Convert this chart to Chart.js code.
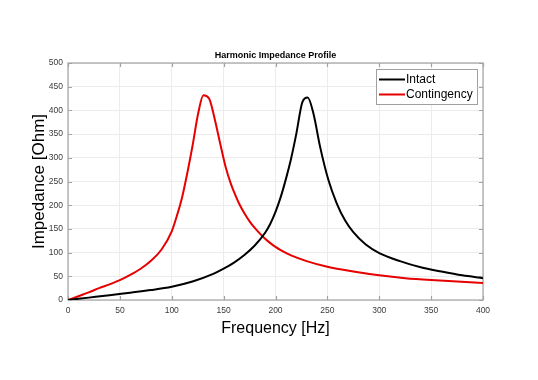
<!DOCTYPE html>
<html>
<head>
<meta charset="utf-8">
<title>Harmonic Impedance Profile</title>
<script src="https://cdn.jsdelivr.net/npm/chart.js@4/dist/chart.umd.min.js"></script>
<style>
  html, body { margin: 0; padding: 0; background: #fff; }
  #wrap { width: 538px; height: 380px; }
</style>
</head>
<body>
<div id="wrap"><canvas id="imp" width="538" height="380"></canvas></div>
<script>
// ------- data -------
const intactHz  = [0, 20, 40, 60, 80, 100, 120, 140, 150, 160, 170, 180, 190, 195, 200, 205, 210, 215, 220, 226, 231, 236.5, 243, 251, 259, 267, 275, 287, 300, 320, 340, 360, 380, 400];
const intactOhm = [0, 5, 10, 15.5, 21, 28, 39, 55, 66, 79, 95, 115, 142, 161, 186, 217, 255, 298, 350, 418, 427, 394, 323, 253, 204, 168, 143, 117, 99, 82, 69, 60, 52, 46];

const contHz  = [0, 10, 20, 30, 40, 50, 60, 70, 80, 90, 100, 105, 110, 115, 120, 125.5, 130.5, 136, 141.5, 147, 152, 157, 160, 165, 170, 175, 180, 185, 190, 195, 200, 205, 215, 230, 250, 275, 300, 325, 350, 375, 400];
const contOhm = [0, 8, 16, 25, 33, 42, 53, 66, 83, 106, 145, 178, 217, 268, 325, 394, 432, 425, 381, 327, 280, 245, 228, 203, 183, 166, 152, 140, 129, 120, 112, 105, 94, 82, 70, 60, 52, 46, 42, 39, 36];

const xTicks = [0, 50, 100, 150, 200, 250, 300, 350, 400];
const yTicks = [0, 50, 100, 150, 200, 250, 300, 350, 400, 450, 500];

const seriesNames  = ['Intact', 'Contingency'];
const seriesColors = ['#000000', '#e60000'];

const FONT = '"Liberation Sans", Arial, Helvetica, sans-serif';
const pts = (xs, ys) => xs.map((x, i) => ({ x, y: ys[i] }));

// MATLAB-ish box: gray frame with inward ticks on all four sides
const boxFrame = {
  id: 'boxFrame',
  beforeDatasetsDraw(chart) {
    const { ctx, chartArea: a, scales: { x, y } } = chart;
    const tl = 4;
    ctx.save();
    ctx.strokeStyle = '#a3a3a3';
    ctx.lineWidth = 1.2;
    ctx.beginPath();
    x.ticks.forEach(t => {
      const px = Math.round(x.getPixelForValue(t.value)) + 0.5;
      ctx.moveTo(px, a.bottom); ctx.lineTo(px, a.bottom - tl);
      ctx.moveTo(px, a.top);    ctx.lineTo(px, a.top + tl);
    });
    y.ticks.forEach(t => {
      const py = Math.round(y.getPixelForValue(t.value)) + 0.5;
      ctx.moveTo(a.left, py);  ctx.lineTo(a.left + tl, py);
      ctx.moveTo(a.right, py); ctx.lineTo(a.right - tl, py);
    });
    ctx.stroke();
    ctx.strokeRect(a.left, a.top, a.right - a.left, a.bottom - a.top);
    ctx.restore();
  }
};

// legend box in the upper-right corner of the axes
const boxLegend = {
  id: 'boxLegend',
  afterDraw(chart) {
    const { ctx, chartArea: a } = chart;
    const w = 101, h = 35;
    const bx = a.right - 6 - w, by = a.top + 6;
    ctx.save();
    ctx.fillStyle = '#fff';
    ctx.fillRect(bx, by, w, h);
    ctx.strokeStyle = '#a0a0a0';
    ctx.lineWidth = 1;
    ctx.strokeRect(bx + 0.5, by + 0.5, w, h);
    ctx.font = `12px ${FONT}`;
    ctx.textBaseline = 'middle';
    chart.data.datasets.forEach((ds, i) => {
      const ly = by + 10.5 + i * 15;
      ctx.strokeStyle = ds.borderColor;
      ctx.lineWidth = 2;
      ctx.beginPath();
      ctx.moveTo(bx + 3, ly); ctx.lineTo(bx + 29, ly);
      ctx.stroke();
      ctx.fillStyle = '#000';
      ctx.fillText(ds.label, bx + 30, ly + 0.5);
    });
    ctx.restore();
  }
};

const tickFont = { family: FONT, size: 8.5 };

new Chart(document.getElementById('imp'), {
  type: 'line',
  data: {
    datasets: [
      { label: seriesNames[0], data: pts(intactHz, intactOhm), borderColor: seriesColors[0] },
      { label: seriesNames[1], data: pts(contHz, contOhm), borderColor: seriesColors[1] },
    ].map(d => ({ ...d, borderWidth: 2, pointRadius: 0, cubicInterpolationMode: 'monotone', fill: false }))
  },
  options: {
    responsive: false,
    devicePixelRatio: 1,
    animation: false,
    layout: { padding: { top: 0, right: 55, left: 0, bottom: 0 } },
    plugins: {
      legend: { display: false },
      tooltip: { enabled: false },
      title: {
        display: true,
        text: 'Harmonic Impedance Profile',
        fullSize: false,
        color: '#000',
        font: { family: FONT, size: 9, weight: 'bold' },
        padding: { top: 50.5, bottom: 1.7 }
      }
    },
    scales: {
      x: {
        type: 'linear', min: 0, max: 400,
        afterBuildTicks: s => { s.ticks = xTicks.map(v => ({ value: v })); },
        afterFit: s => { s.height = 80; },
        grid: { color: '#ececec', drawTicks: false },
        border: { display: false },
        ticks: { color: '#3a3a3a', font: tickFont, padding: 6, maxRotation: 0 },
        title: {
          display: true, text: 'Frequency [Hz]', color: '#000',
          font: { family: FONT, size: 16 }, padding: { top: 0, bottom: 42 }
        }
      },
      y: {
        type: 'linear', min: 0, max: 500,
        afterBuildTicks: s => { s.ticks = yTicks.map(v => ({ value: v })); },
        afterFit: s => { s.width = 68; },
        grid: { color: '#ececec', drawTicks: false },
        border: { display: false },
        ticks: { color: '#3a3a3a', font: tickFont, padding: 5 },
        title: {
          display: true, text: 'Impedance [Ohm]', color: '#000',
          font: { family: FONT, size: 17 }, padding: { top: 29, bottom: 0 }
        }
      }
    }
  },
  plugins: [boxFrame, boxLegend]
});
</script>
</body>
</html>
